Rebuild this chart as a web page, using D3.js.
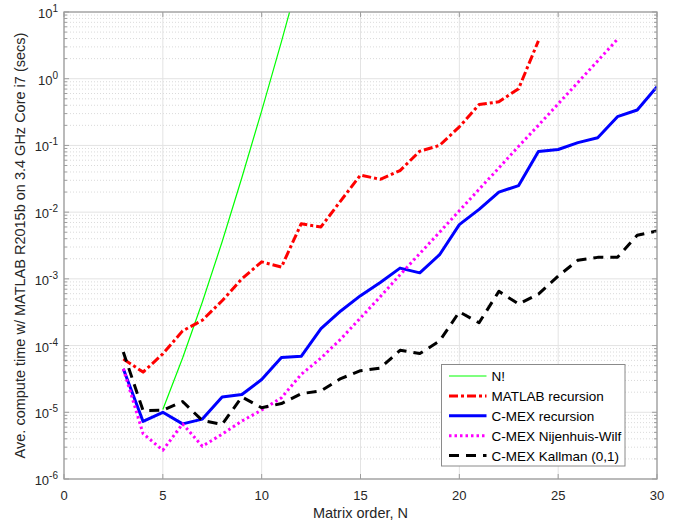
<!DOCTYPE html>
<html lang="en">
<head>
<meta charset="UTF-8" />
<title>Permanent compute time</title>
<script src="https://d3js.org/d3.v7.min.js"></script>
<style>
    body { margin: 0; background: #fff; }
    svg { display: block; font-family: "Liberation Sans", Arial, sans-serif; }
</style>
</head>
<body>
<svg id="chart" width="681" height="523"></svg>
<script>
// Matrix order N and average compute times (secs)
const nFact = [5, 6, 7, 8, 9, 10, 11, 12];
const factTime = [1.1e-5, 6.5e-5, 4.5e-4, 3.6e-3, 3.3e-2, 0.33, 3.6, 43];

const nMatlab = d3.range(3, 25);
const matlabTime = [6.3e-5, 4.0e-5, 7.5e-5, 1.66e-4, 2.4e-4, 4.7e-4, 1.0e-3, 1.8e-3, 1.5e-3,
    6.7e-3, 6.0e-3, 1.48e-2, 3.6e-2, 3.1e-2, 4.2e-2, 8.2e-2, 0.1, 0.19, 0.41, 0.45, 0.71, 3.7];

const nCmex = d3.range(3, 31);
const cmexTime = [4.5e-5, 7.3e-6, 1.0e-5, 6.7e-6, 7.9e-6, 1.7e-5, 1.85e-5, 3.1e-5, 6.6e-5, 6.9e-5,
    1.8e-4, 3.3e-4, 5.6e-4, 8.8e-4, 1.45e-3, 1.23e-3, 2.3e-3, 6.5e-3, 1.1e-2, 2.0e-2, 2.5e-2,
    8.1e-2, 8.7e-2, 0.11, 0.13, 0.27, 0.34, 0.76];

const nWilf = d3.range(3, 29);
const wilfTime = [4.5e-5, 4.8e-6, 2.7e-6, 6.7e-6, 3.1e-6, 4.7e-6, 7.4e-6, 1.08e-5, 1.65e-5, 3.7e-5,
    6.5e-5, 1.25e-4, 2.6e-4, 5.4e-4, 1.15e-3, 2.4e-3, 5.0e-3, 1.05e-2, 2.2e-2, 4.6e-2, 9.7e-2,
    0.2, 0.42, 0.88, 1.85, 3.9];

const nKall = d3.range(3, 31);
const kallTime = [8.0e-5, 1.06e-5, 1.07e-5, 1.45e-5, 7.5e-6, 6.6e-6, 1.7e-5, 1.17e-5, 1.35e-5, 1.9e-5,
    2.1e-5, 3.2e-5, 4.2e-5, 4.6e-5, 8.5e-5, 7.6e-5, 1.17e-4, 3.2e-4, 2.2e-4, 6.5e-4, 4.2e-4,
    5.9e-4, 1.1e-3, 1.9e-3, 2.1e-3, 2.1e-3, 4.5e-3, 5.2e-3];

const xTicks = [0, 5, 10, 15, 20, 25, 30];
const yExponents = [-6, -5, -4, -3, -2, -1, 0, 1];

const series = [
    { label: "N!", n: nFact, t: factTime, color: "#00ff00", width: 1.2, dash: null },
    { label: "MATLAB recursion", n: nMatlab, t: matlabTime, color: "#ff0000", width: 3, dash: "9,3,3,3" },
    { label: "C-MEX recursion", n: nCmex, t: cmexTime, color: "#0000ff", width: 3, dash: null },
    { label: "C-MEX Nijenhuis-Wilf", n: nWilf, t: wilfTime, color: "#ff00ff", width: 3, dash: "2.5,3" },
    { label: "C-MEX Kallman (0,1)", n: nKall, t: kallTime, color: "#000000", width: 3, dash: "10,7" }
];

const margin = { left: 64, top: 12, right: 681 - 657, bottom: 523 - 479 };
const width = 681 - margin.left - margin.right;
const height = 523 - margin.top - margin.bottom;

const svg = d3.select("#chart");
const g = svg.append("g").attr("transform", `translate(${margin.left},${margin.top})`);

const x = d3.scaleLinear().domain([0, 30]).range([0, width]);
const y = d3.scaleLog().domain([1e-6, 1e1]).range([height, 0]);

// Minor grid (log decades)
const minorVals = [];
yExponents.slice(0, -1).forEach(e => {
    for (let k = 2; k <= 9; k++) minorVals.push(k * Math.pow(10, e));
});

g.append("g").selectAll("line").data(minorVals).join("line")
    .attr("x1", 0).attr("x2", width)
    .attr("y1", d => y(d)).attr("y2", d => y(d))
    .attr("stroke", "#d0d0d0").attr("stroke-width", 0.8)
    .attr("stroke-dasharray", "1,2");

// Major grid
g.append("g").selectAll("line").data(xTicks).join("line")
    .attr("x1", d => x(d)).attr("x2", d => x(d))
    .attr("y1", 0).attr("y2", height)
    .attr("stroke", "#e3e3e3").attr("stroke-width", 1);

g.append("g").selectAll("line").data(yExponents).join("line")
    .attr("x1", 0).attr("x2", width)
    .attr("y1", d => y(Math.pow(10, d))).attr("y2", d => y(Math.pow(10, d)))
    .attr("stroke", "#e3e3e3").attr("stroke-width", 1);

// Series
g.append("clipPath").attr("id", "plot-clip")
    .append("rect").attr("width", width).attr("height", height);

const line = d3.line().x(d => x(d[0])).y(d => y(d[1]));

const plot = g.append("g").attr("clip-path", "url(#plot-clip)");
series.forEach(s => {
    plot.append("path")
        .datum(s.n.map((n, i) => [n, s.t[i]]))
        .attr("d", line)
        .attr("fill", "none")
        .attr("stroke", s.color)
        .attr("stroke-width", s.width)
        .attr("stroke-dasharray", s.dash)
        .attr("stroke-linejoin", "round");
});

// Axes box and ticks
const axisColor = "#9d9d9d";
g.append("rect")
    .attr("width", width).attr("height", height)
    .attr("fill", "none").attr("stroke", axisColor).attr("stroke-width", 1.3);

const ticks = g.append("g").attr("stroke", axisColor).attr("stroke-width", 1);
xTicks.forEach(d => {
    ticks.append("line").attr("x1", x(d)).attr("x2", x(d)).attr("y1", height).attr("y2", height - 5);
    ticks.append("line").attr("x1", x(d)).attr("x2", x(d)).attr("y1", 0).attr("y2", 5);
});
yExponents.forEach(e => {
    const yy = y(Math.pow(10, e));
    ticks.append("line").attr("x1", 0).attr("x2", 5).attr("y1", yy).attr("y2", yy);
    ticks.append("line").attr("x1", width).attr("x2", width - 5).attr("y1", yy).attr("y2", yy);
});
minorVals.forEach(v => {
    const yy = y(v);
    ticks.append("line").attr("x1", 0).attr("x2", 3).attr("y1", yy).attr("y2", yy);
    ticks.append("line").attr("x1", width).attr("x2", width - 3).attr("y1", yy).attr("y2", yy);
});

// Tick labels
g.append("g").selectAll("text").data(xTicks).join("text")
    .attr("x", d => x(d)).attr("y", height + 21)
    .attr("text-anchor", "middle")
    .attr("font-size", 13).attr("fill", "#262626")
    .text(d => d);

const yl = g.append("g").selectAll("text").data(yExponents).join("text")
    .attr("x", -6).attr("y", d => y(Math.pow(10, d)) + 6)
    .attr("text-anchor", "end")
    .attr("font-size", 13).attr("fill", "#262626");
yl.append("tspan").text("10");
yl.append("tspan").attr("dy", -6).attr("font-size", 10).text(d => d);

// Axis labels
svg.append("text")
    .attr("x", margin.left + width / 2).attr("y", 518)
    .attr("text-anchor", "middle")
    .attr("font-size", 14.5).attr("fill", "#262626")
    .text("Matrix order, N");

svg.append("text")
    .attr("transform", `translate(25,${margin.top + height / 2}) rotate(-90)`)
    .attr("text-anchor", "middle")
    .attr("font-size", 14.5).attr("fill", "#262626")
    .text("Ave. compute time w/ MATLAB R2015b on 3.4 GHz Core i7 (secs)");

// Legend
const legX = 441.5 - margin.left, legY = 364.5 - margin.top;
const legend = g.append("g").attr("transform", `translate(${legX},${legY})`);
legend.append("rect")
    .attr("width", 183.5).attr("height", 101.5)
    .attr("fill", "#fff").attr("stroke", "#8a8a8a").attr("stroke-width", 1);

series.forEach((s, i) => {
    const yy = 11.5 + i * 19.9;
    legend.append("line")
        .attr("x1", 7.5).attr("x2", 45).attr("y1", yy).attr("y2", yy)
        .attr("stroke", s.color).attr("stroke-width", s.width)
        .attr("stroke-dasharray", s.dash);
    legend.append("text")
        .attr("x", 50).attr("y", yy + 5)
        .attr("font-size", 13.5).attr("fill", "#000")
        .text(s.label);
});
</script>
</body>
</html>
